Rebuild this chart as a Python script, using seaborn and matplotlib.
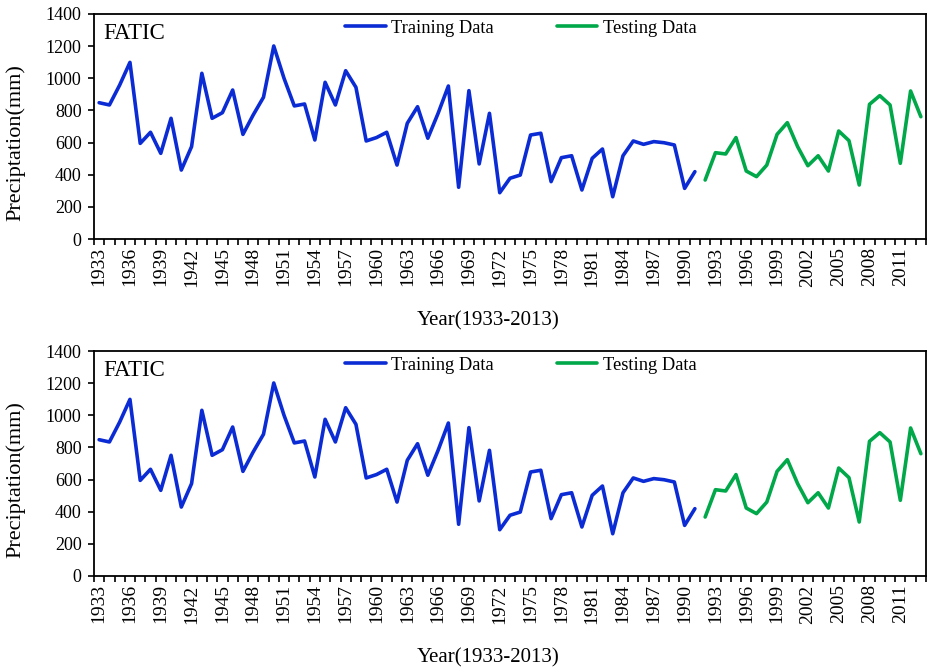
import matplotlib
matplotlib.use("Agg")
import matplotlib.pyplot as plt
import seaborn as sns
import pandas as pd
import numpy as np
from matplotlib.lines import Line2D

train_years = list(range(1933, 1992))
train_vals = [848, 834, 958, 1099, 595, 664, 533, 751, 429, 575,
              1031, 751, 786, 927, 651, 772, 882, 1201, 1000, 828,
              840, 616, 975, 834, 1047, 944, 610, 631, 664, 460,
              720, 823, 627, 782, 952, 322, 923, 467, 782, 288,
              378, 398, 647, 658, 357, 506, 518, 305, 502, 560,
              263, 518, 610, 589, 606, 599, 585, 315, 419]
test_years = list(range(1992, 2014))
test_vals = [367, 537, 529, 631, 423, 388, 460, 651, 724, 575,
             456, 518, 423, 672, 612, 336, 838, 892, 834, 471,
             921, 761]

tick_years = list(range(1933, 2013, 3))
y_ticks = [0, 200, 400, 600, 800, 1000, 1200, 1400]
series_names = ["Training Data", "Testing Data"]
colors = {"Training Data": "#0B2BD4", "Testing Data": "#00A84A"}

df = pd.DataFrame({
    "Year": train_years + test_years,
    "Precip": train_vals + test_vals,
    "Set": [series_names[0]] * len(train_years) + [series_names[1]] * len(test_years),
})

sns.set_theme(style="white")
plt.rcParams["font.family"] = ["Liberation Serif", "DejaVu Serif"]
plt.rcParams["text.color"] = "black"
plt.rcParams["axes.labelcolor"] = "black"
plt.rcParams["xtick.color"] = "black"
plt.rcParams["ytick.color"] = "black"

fig = plt.figure(figsize=(9.29, 6.72), dpi=100)
axes_boxes = [
    [94 / 929, 1 - 239 / 672, 832 / 929, 225 / 672],
    [94 / 929, 1 - 576 / 672, 832 / 929, 225 / 672],
]

for box in axes_boxes:
    ax = fig.add_axes(box)
    sns.lineplot(data=df, x="Year", y="Precip", hue="Set", palette=colors,
                 linewidth=2.6, ax=ax, legend=False)
    ax.set_xlim(1932.5, 2013.5)
    ax.set_ylim(0, 1400)
    ax.set_yticks(y_ticks)
    ax.set_xticks(tick_years)
    ax.set_xticklabels([str(y) for y in tick_years], rotation=90, fontsize=14)
    ax.set_xticks(np.arange(1932.5, 2014, 1.0), minor=True)
    ax.tick_params(axis="x", which="major", length=0, pad=6)
    ax.tick_params(axis="x", which="minor", length=4.5, width=1.2,
                   direction="out", color="black", bottom=True)
    ax.tick_params(axis="y", which="major", length=4, width=1.2,
                   direction="out", color="black", left=True, labelsize=13, pad=5)
    for s in ax.spines.values():
        s.set_visible(True)
        s.set_color("black")
        s.set_linewidth(1.3)
    ax.set_xlabel("Year(1933-2013)", fontsize=15, color="black")
    ax.xaxis.set_label_coords(0.4736, -0.32)
    ax.xaxis.label.set_va("top")
    ax.set_ylabel("Preciptation(mm)", fontsize=16, color="black")
    ax.yaxis.set_label_coords(-0.082, 0.43)
    ax.text(0.011, 0.889, "FATIC", transform=ax.transAxes, fontsize=16.5,
            va="baseline", ha="left", color="black")
    handles = [Line2D([0], [0], color=colors[n], lw=2.6) for n in series_names]
    leg = ax.legend(handles, series_names, loc="upper center",
                    bbox_to_anchor=(0.513, 1.0), ncol=2, frameon=False, fontsize=13.3,
                    handlelength=2.2, handletextpad=0.3, columnspacing=3.4,
                    borderaxespad=0.1, borderpad=0.2)
    for t in leg.get_texts():
        t.set_color("black")
    ax.grid(False)

fig.savefig("out.png", dpi=100, facecolor="white")
